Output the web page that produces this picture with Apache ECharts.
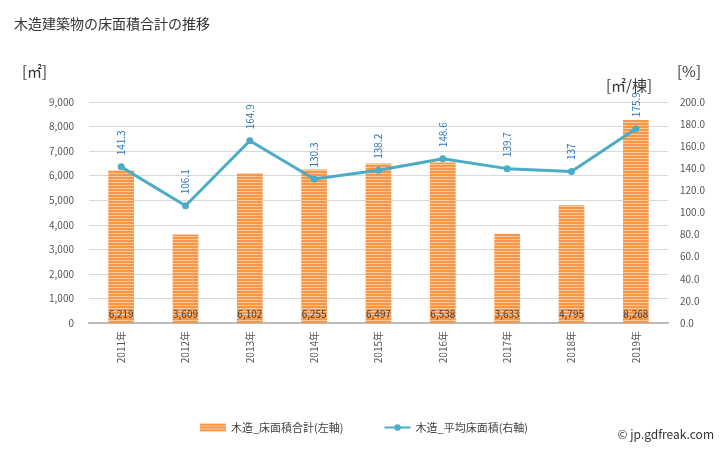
<!DOCTYPE html>
<html><head><meta charset="utf-8">
<script src="https://cdn.jsdelivr.net/npm/echarts@6/dist/echarts.min.js"></script>
<style>html,body{margin:0;padding:0;background:#fff}#c{width:728px;height:450px}</style>
</head><body><div id="c"></div>
<script>
const categories = ['2011年','2012年','2013年','2014年','2015年','2016年','2017年','2018年','2019年'];
const floorArea = [6219,3609,6102,6255,6497,6538,3633,4795,8268];
const avgArea = [141.3,106.1,164.9,130.3,138.2,148.6,139.7,137,175.9];
const leftTicks = {min:0,max:9000,interval:1000};
const rightTicks = {min:0,max:200,interval:20};

const pc = document.createElement('canvas');
pc.width = 4; pc.height = 3;
const g = pc.getContext('2d');
g.fillStyle = '#f79646'; g.fillRect(0,0,4,3);
g.fillStyle = '#fcc89a'; g.fillRect(0,2,4,1);

const font = '"Noto Sans CJK JP", sans-serif';
const chart = echarts.init(document.getElementById('c'), null, {renderer:'canvas'});
chart.setOption({
  animation:false,
  textStyle:{fontFamily:font},
  title:{text:'木造建築物の床面積合計の推移',left:9,top:12,textStyle:{fontSize:14,fontWeight:'normal',color:'#333',fontFamily:font}},
  graphic:[
    {type:'text',left:22,top:64,style:{text:'[㎡]',fontSize:15,fill:'#333',fontFamily:font}},
    {type:'text',left:606,top:78,style:{text:'[㎡/棟]',fontSize:15,fill:'#333',fontFamily:font}},
    {type:'text',left:677,top:64,style:{text:'[%]',fontSize:15,fill:'#333',fontFamily:font}},
    {type:'text',right:14,bottom:10,style:{text:'© jp.gdfreak.com',fontSize:12,fill:'#333',fontFamily:font}}
  ],
  legend:{bottom:12,left:'center',itemGap:40,itemWidth:26,itemHeight:8,textStyle:{fontSize:11,color:'#444',fontFamily:font},
    data:[{name:'木造_床面積合計(左軸)',icon:'rect'},{name:'木造_平均床面積(右軸)'}]},
  grid:{left:89,right:60,top:102,bottom:127},
  xAxis:{type:'category',data:categories,
    axisLine:{lineStyle:{color:'#bbb',width:2}},axisTick:{show:false},
    axisLabel:{rotate:90,fontSize:10,color:'#555',margin:8,fontFamily:font}},
  yAxis:[
    {type:'value',min:leftTicks.min,max:leftTicks.max,interval:leftTicks.interval,
      axisLabel:{fontSize:10,color:'#555',margin:15,formatter:v=>v.toLocaleString('en-US')},
      splitLine:{lineStyle:{color:'#d9d9d9'}},axisLine:{show:false},axisTick:{show:false}},
    {type:'value',min:rightTicks.min,max:rightTicks.max,interval:rightTicks.interval,
      axisLabel:{fontSize:10,color:'#555',margin:12,formatter:v=>v.toFixed(1)},
      splitLine:{show:false},axisLine:{show:false},axisTick:{show:false}}
  ],
  series:[
    {name:'木造_床面積合計(左軸)',type:'bar',data:floorArea,barWidth:'40%',yAxisIndex:0,
      itemStyle:{color:{image:pc,repeat:'repeat'}},
      label:{show:true,position:'insideBottom',distance:4,fontSize:10,color:'#404040',
        formatter:p=>p.value.toLocaleString('en-US')}},
    {name:'木造_平均床面積(右軸)',type:'line',data:avgArea,yAxisIndex:1,
      symbol:'circle',symbolSize:7,
      lineStyle:{color:'#4bacc6',width:3},itemStyle:{color:'#4bacc6'},
      label:{show:true,position:'top',distance:8,rotate:90,align:'left',verticalAlign:'middle',
        fontSize:10,color:'#2e75b6'}}
  ]
});
</script></body></html>
